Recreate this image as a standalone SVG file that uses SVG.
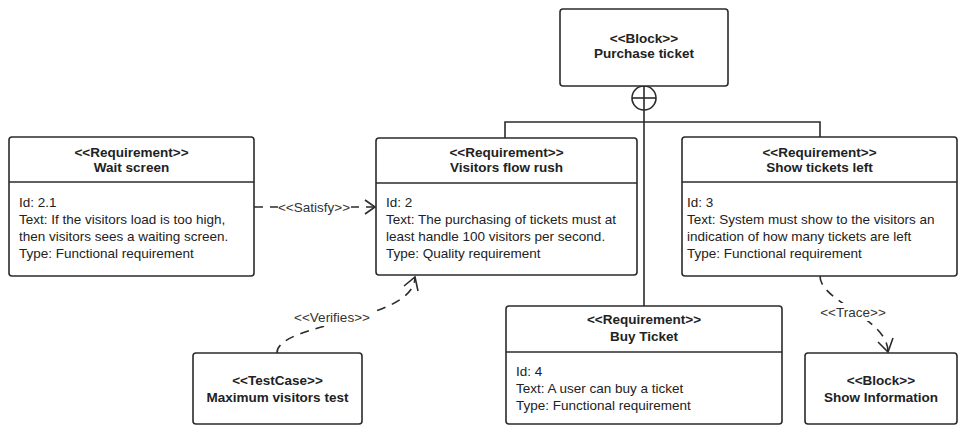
<svg xmlns="http://www.w3.org/2000/svg" width="960" height="429" viewBox="0 0 960 429">
  <style>
    .box { fill: #ffffff; stroke: #2b2b2b; stroke-width: 1.6; }
    .div { stroke: #2b2b2b; stroke-width: 1.6; }
    .t { font-family: "Liberation Sans", Arial, sans-serif; font-size: 13.5px; fill: #222222; }
    .h { font-weight: bold; text-anchor: middle; }
    .lbl { font-family: "Liberation Sans", Arial, sans-serif; font-size: 13.5px; fill: #333333; text-anchor: middle; }
    .line { fill: none; stroke: #2b2b2b; stroke-width: 1.6; }
    .dash { fill: none; stroke: #2b2b2b; stroke-width: 1.6; stroke-dasharray: 9 7; }
    .head { fill: none; stroke: #2b2b2b; stroke-width: 1.6; }
  </style>

  <!-- connectors -->
  <g id="connectors">
    <!-- containment tree from Purchase ticket -->
    <circle class="line" cx="644" cy="98" r="12"/>
    <line class="line" x1="632" y1="98" x2="656" y2="98"/>
    <line class="line" x1="644" y1="86" x2="644" y2="306"/>
    <polyline class="line" points="505,138 505,122 820,122 820,137"/>

    <!-- satisfy -->
    <path class="dash" d="M254,207 L375,207"/>
    <rect x="278" y="198" width="73" height="18" fill="#ffffff"/>
    <polyline class="head" points="365,200 375,207 365,214"/>
    <text class="lbl" x="314" y="211.7">&lt;&lt;Satisfy&gt;&gt;</text>

    <!-- verifies -->
    <path class="dash" d="M277,353 C277,322 415,322 415,277"/>
    <rect x="292" y="308" width="80" height="18" fill="#ffffff"/>
    <polyline class="head" points="404,286 415,277 418,291"/>
    <text class="lbl" x="332" y="321.7">&lt;&lt;Verifies&gt;&gt;</text>

    <!-- trace -->
    <path class="dash" d="M820,276 C820,302 888,318 888,352"/>
    <rect x="822" y="303" width="63" height="18" fill="#ffffff"/>
    <polyline class="head" points="878,342 888,352 893,338"/>
    <text class="lbl" x="853" y="316.7">&lt;&lt;Trace&gt;&gt;</text>
  </g>

  <!-- Purchase ticket block -->
  <g id="purchase-ticket">
    <rect class="box" x="560" y="9" width="168" height="77" rx="3"/>
    <text class="t h" x="644" y="42.7">&lt;&lt;Block&gt;&gt;</text>
    <text class="t h" x="644" y="57.7">Purchase ticket</text>
  </g>

  <!-- Wait screen -->
  <g id="wait-screen">
    <rect class="box" x="9" y="137" width="245" height="139" rx="3"/>
    <line class="div" x1="9" y1="182" x2="254" y2="182"/>
    <text class="t h" x="131.5" y="156.7">&lt;&lt;Requirement&gt;&gt;</text>
    <text class="t h" x="131.5" y="171.7">Wait screen</text>
    <text class="t" x="19" y="206.7">Id: 2.1</text>
    <text class="t" x="19" y="223.7">Text: If the visitors load is too high,</text>
    <text class="t" x="19" y="240.7">then visitors sees a waiting screen.</text>
    <text class="t" x="19" y="257.7">Type: Functional requirement</text>
  </g>

  <!-- Visitors flow rush -->
  <g id="visitors-flow-rush">
    <rect class="box" x="376" y="138" width="261" height="137" rx="3"/>
    <line class="div" x1="376" y1="183" x2="637" y2="183"/>
    <text class="t h" x="506.5" y="156.7">&lt;&lt;Requirement&gt;&gt;</text>
    <text class="t h" x="506.5" y="171.7">Visitors flow rush</text>
    <text class="t" x="386" y="206.7">Id: 2</text>
    <text class="t" x="386" y="223.7">Text: The purchasing of tickets must at</text>
    <text class="t" x="386" y="240.7">least handle 100 visitors per second.</text>
    <text class="t" x="386" y="257.7">Type: Quality requirement</text>
  </g>

  <!-- Show tickets left -->
  <g id="show-tickets-left">
    <rect class="box" x="682" y="137" width="275" height="139" rx="3"/>
    <line class="div" x1="682" y1="182" x2="957" y2="182"/>
    <text class="t h" x="819.5" y="156.7">&lt;&lt;Requirement&gt;&gt;</text>
    <text class="t h" x="819.5" y="171.7">Show tickets left</text>
    <text class="t" x="687" y="206.7">Id: 3</text>
    <text class="t" x="687" y="223.7">Text: System must show to the visitors an</text>
    <text class="t" x="687" y="240.7">indication of how many tickets are left</text>
    <text class="t" x="687" y="257.7">Type: Functional requirement</text>
  </g>

  <!-- Buy Ticket -->
  <g id="buy-ticket">
    <rect class="box" x="506" y="306" width="276" height="118" rx="3"/>
    <line class="div" x1="506" y1="352" x2="782" y2="352"/>
    <text class="t h" x="644" y="323.7">&lt;&lt;Requirement&gt;&gt;</text>
    <text class="t h" x="644" y="340.7">Buy Ticket</text>
    <text class="t" x="516" y="375.7">Id: 4</text>
    <text class="t" x="516" y="392.7">Text: A user can buy a ticket</text>
    <text class="t" x="516" y="409.7">Type: Functional requirement</text>
  </g>

  <!-- Maximum visitors test -->
  <g id="maximum-visitors-test">
    <rect class="box" x="193" y="353" width="169" height="71" rx="3"/>
    <text class="t h" x="277.5" y="384.7">&lt;&lt;TestCase&gt;&gt;</text>
    <text class="t h" x="277.5" y="401.7">Maximum visitors test</text>
  </g>

  <!-- Show Information -->
  <g id="show-information">
    <rect class="box" x="805" y="353" width="152" height="71" rx="3"/>
    <text class="t h" x="881" y="384.7">&lt;&lt;Block&gt;&gt;</text>
    <text class="t h" x="881" y="401.7">Show Information</text>
  </g>
</svg>
